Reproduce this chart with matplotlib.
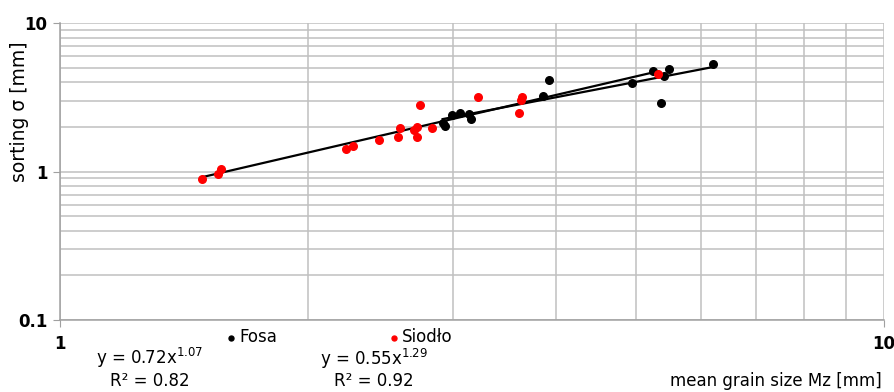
import numpy as np
import matplotlib
matplotlib.use('Agg')
import matplotlib.pyplot as plt
from matplotlib.ticker import LogLocator, FixedLocator, NullFormatter

plt.rcParams['font.family'] = ['DejaVu Sans']

# Fosa samples
fosa_x = [2.913, 2.932, 2.988, 3.058, 3.139, 3.151, 3.853, 3.925, 4.950,
          5.248, 5.358, 5.408, 5.489, 6.197]
fosa_y = [2.117, 2.020, 2.425, 2.475, 2.452, 2.267, 3.228, 4.124, 3.979,
          4.747, 2.911, 4.411, 4.951, 5.354]

# Siodlo samples
siod_x = [1.488, 1.556, 1.567, 2.224, 2.266, 2.441, 2.574, 2.586, 2.689,
          2.710, 2.710, 2.735, 2.826, 3.218, 3.609, 3.623, 3.639, 5.322]
siod_y = [0.896, 0.969, 1.048, 1.419, 1.494, 1.633, 1.701, 1.970, 1.910,
          2.011, 1.701, 2.804, 1.970, 3.177, 2.490, 3.064, 3.177, 4.529]

# power trendlines y = a * x^b, R^2
fosa_fit = (0.72, 1.07, 0.82)
siod_fit = (0.55, 1.29, 0.92)

fig = plt.figure(figsize=(8.94, 3.92), dpi=100)
ax = fig.add_axes([60 / 894, 1 - 320 / 392, 824 / 894, (320 - 23.3) / 392])

grid_c = '#c0c0c0'
ax.set_xscale('log')
ax.set_yscale('log')
ax.set_xlim(1, 10)
ax.set_ylim(0.1, 10)

ax.xaxis.set_major_locator(FixedLocator([1, 10]))
ax.yaxis.set_major_locator(FixedLocator([0.1, 1, 10]))
ax.xaxis.set_minor_locator(LogLocator(base=10, subs=np.arange(2, 10)))
ax.yaxis.set_minor_locator(LogLocator(base=10, subs=np.arange(2, 10)))
ax.xaxis.set_minor_formatter(NullFormatter())
ax.yaxis.set_minor_formatter(NullFormatter())
ax.set_xticklabels(['1', '10'])
ax.set_yticklabels(['0.1', '1', '10'])

ax.grid(True, which='both', color=grid_c, lw=1.1)
ax.set_axisbelow(True)
for s in ['top', 'right']:
    ax.spines[s].set_visible(False)
for s in ['left', 'bottom']:
    ax.spines[s].set_color('#a0a0a0')
    ax.spines[s].set_linewidth(1.1)
ax.tick_params(which='minor', length=0)
ax.tick_params(axis='y', which='major', length=5, color='#a0a0a0', pad=4, labelsize=12)
ax.tick_params(axis='x', which='major', length=5, color='#a0a0a0', pad=6, labelsize=12)
for lab in ax.get_xticklabels() + ax.get_yticklabels():
    lab.set_fontweight('bold')

# trendlines over each series' range
for xs, (a, b, r2) in [(fosa_x, fosa_fit), (siod_x, siod_fit)]:
    xx = np.linspace(min(xs), max(xs), 100)
    ax.plot(xx, a * xx ** b, color='black', lw=1.6, zorder=2)

ax.scatter(fosa_x, fosa_y, s=30, color='black', zorder=3, label='Fosa')
ax.scatter(siod_x, siod_y, s=30, color='red', zorder=3, label='Siodło')

ax.legend(loc='center', bbox_to_anchor=(340 / 894, 1 - 337 / 392),
          bbox_transform=fig.transFigure, ncol=2, frameon=False,
          fontsize=12, markerscale=0.65, handlelength=0.4, handletextpad=0.3,
          columnspacing=6.8)

fig.text(150 / 894, 1 - 358 / 392, 'y = %.2fx$^{%.2f}$' % fosa_fit[:2],
         ha='center', va='center', fontsize=12)
fig.text(150 / 894, 1 - 381 / 392, 'R² = %.2f' % fosa_fit[2],
         ha='center', va='center', fontsize=12)
fig.text(374 / 894, 1 - 359 / 392, 'y = %.2fx$^{%.2f}$' % siod_fit[:2],
         ha='center', va='center', fontsize=12)
fig.text(374 / 894, 1 - 381 / 392, 'R² = %.2f' % siod_fit[2],
         ha='center', va='center', fontsize=12)

fig.text(882 / 894, 1 - 381 / 392, 'mean grain size Mz [mm]',
         ha='right', va='center', fontsize=12)
fig.text(20 / 894, 1 - 112 / 392, 'sorting σ [mm]', rotation=90,
         ha='center', va='center', fontsize=13.5)

fig.savefig('out.png', dpi=100)
